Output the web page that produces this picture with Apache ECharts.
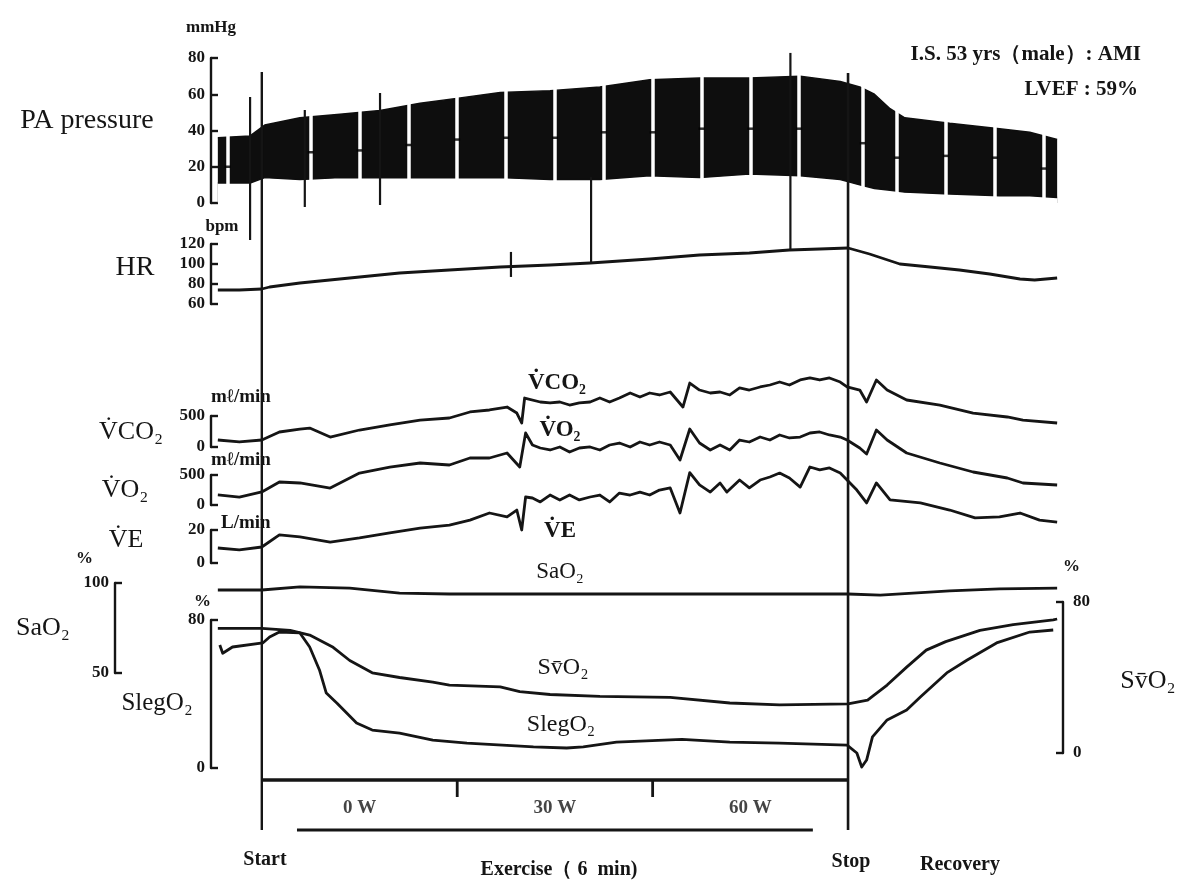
<!DOCTYPE html>
<html><head><meta charset="utf-8">
<script src="https://cdn.jsdelivr.net/npm/echarts@6/dist/echarts.min.js"></script>
<style>html,body{margin:0;padding:0;background:#fff}#c{width:1184px;height:884px}</style>
</head><body><div id="c"></div>
<script>
// ---------- DATA (time in minutes from start of exercise) ----------
const paTimes = [-0.45,-0.12,0.03,0.39,0.8,1.21,1.62,2.03,2.44,2.95,3.46,3.97,4.48,4.99,5.51,5.92,6.12,6.27,6.43,6.58,7.04,7.55,7.86,8.14];
const paLow   = [11,11,14,13,14,14,14,14,14,13,13,15,14,16,15,13,10,8,7,6,5,4,4,3];
const paHigh  = [36,37,43,47,49,51,55,58,61,62,64,68,69,69,70,67,64,60,52,47,44,41,39,35];
const paMarkTimes = [-0.35,0.5,1,1.5,2,2.5,3,3.5,4,4.5,5,5.5,6.15,6.5,7,7.5,8];
const paMean      = [20,28,29,32,35,36,36,39,39,41,41,41,33,25,26,25,19];
const spikeTimes  = [-0.12,0.44,1.21,2.55,3.37,5.41];
const spikeTop    = [58.5,51.3,60.7,-27,14.3,82.8];
const spikeBottom = [-20.4,-2.2,-1.1,-40.8,-33.1,-25.9];

const hrTimes  = [-0.45,-0.23,0,0.08,0.39,0.9,1.41,1.92,2.44,2.95,3.36,3.97,4.48,4.99,5.40,5.71,6.0,6.22,6.53,6.84,7.14,7.45,7.76,7.91,8.14];
const hrValues = [74,74,75,77,81,86,91,94,97,99,101,105,109,111,114,115,116,110,100,97,94,90,85,84,86];

const vco2Times  = [-0.45,-0.23,0,0.18,0.39,0.49,0.7,1.0,1.31,1.62,1.92,2.13,2.33,2.51,2.61,2.66,2.69,2.85,2.95,3.05,3.15,3.25,3.36,3.46,3.56,3.66,3.77,3.87,3.97,4.07,4.18,4.31,4.38,4.48,4.59,4.69,4.79,4.89,4.99,5.10,5.20,5.30,5.40,5.51,5.61,5.71,5.81,5.92,5.99,6.12,6.19,6.29,6.40,6.60,6.94,7.28,7.63,7.79,8.14];
const vco2Values = [113,81,113,242,290,306,161,274,355,435,468,565,597,645,548,387,790,726,710,726,677,710,726,790,726,790,871,806,871,839,887,645,1032,919,871,887,839,952,919,968,1000,1048,1000,1081,1113,1081,1113,1048,968,919,726,1081,919,758,677,548,484,435,387];

const vo2Times  = [-0.45,-0.23,0,0.18,0.39,0.7,1.0,1.31,1.62,1.92,2.13,2.33,2.51,2.64,2.70,2.77,2.85,2.95,3.05,3.15,3.25,3.36,3.46,3.56,3.66,3.77,3.87,3.97,4.07,4.18,4.28,4.38,4.48,4.59,4.69,4.79,4.89,4.99,5.10,5.20,5.30,5.40,5.51,5.61,5.71,5.81,5.92,5.99,6.12,6.19,6.29,6.40,6.60,6.94,7.28,7.63,7.79,8.14];
const vo2Values = [167,133,217,383,367,283,533,633,700,667,783,783,867,633,1200,1000,950,917,967,883,950,967,917,1000,1033,967,1050,1000,1050,1000,750,1267,1033,917,1000,917,1083,1050,1133,1083,1167,1117,1133,1200,1217,1167,1133,1083,950,850,1250,1083,867,700,550,450,367,333];

const veTimes  = [-0.45,-0.23,0,0.18,0.39,0.7,1.0,1.31,1.62,1.92,2.13,2.33,2.51,2.61,2.66,2.70,2.77,2.85,2.95,3.05,3.15,3.25,3.36,3.46,3.56,3.66,3.77,3.87,3.97,4.07,4.18,4.28,4.38,4.48,4.59,4.69,4.76,4.89,4.99,5.10,5.20,5.30,5.40,5.51,5.61,5.71,5.81,5.92,5.99,6.09,6.19,6.29,6.43,6.74,7.04,7.3,7.55,7.76,7.96,8.14];
const veValues = [9.1,7.9,9.7,17,15.8,12.7,15.2,18.2,21.2,23,26,30.3,27.9,32.1,20,40,39.4,37,41.2,38.2,41.2,38.2,40,41.2,37,42.4,41.2,43,41.2,44.2,45.5,30.3,54.8,47.3,43,48.5,43,50.3,45.5,50.3,52.1,54.5,51.5,46,58.2,56.4,57.6,54.5,50.3,44.2,36.4,48.5,38.2,36.4,32.1,27.3,27.9,30.3,26,24.8];

const sao2Times  = [-0.45,0,0.39,0.9,1.41,1.92,3.46,4.48,6.0,6.33,7.04,7.55,8.14];
const sao2Values = [96.1,96.1,97.8,97.2,94.4,93.9,93.9,93.9,93.9,93.3,95.6,96.7,97.2];

const svo2Times  = [-0.45,0,0.29,0.49,0.73,0.9,1.13,1.41,1.75,1.92,2.44,2.64,2.95,3.46,4.18,4.79,5.3,6.0,6.2,6.4,6.6,6.8,7.0,7.35,7.69,8.1,8.14];
const svo2Values = [66,66,65,62.5,56,49,42.5,40,37.5,36,35,32.5,31,30,29.5,26.5,25.5,26,28,36,45.5,54.5,59,65,68,70.5,71];

const slegTimes  = [-0.43,-0.40,-0.30,0.01,0.08,0.18,0.39,0.49,0.59,0.66,0.77,0.97,1.13,1.41,1.75,2.1,2.78,3.12,3.29,3.63,4.3,4.79,5.3,5.99,6.09,6.14,6.19,6.25,6.4,6.6,6.74,7.01,7.22,7.52,7.86,8.1];
const slegValues = [66.5,62,65.4,67.6,70.8,73.5,73,65.4,53,40.5,35,24.3,20.5,18.9,15.1,13.5,11.4,10.8,11.4,14,15.5,14,13.5,12.4,8.1,0.5,4.3,16.8,26,31.4,38.4,51.4,58.4,67.6,73.5,74.6];

const startTime = 0, stopTime = 6;
const stageNames = ['0 W','30 W','60 W'];
const stageStart = [0,2,4];
const stageEnd   = [2,4,6];
const exerciseBar = [0.36, 5.64];

// ---------- LAYOUT / STYLE ----------
const INK = '#151515';
const SERIF = '"Liberation Serif","DejaVu Serif",serif';
const tMin = -0.52, tMax = 8.2;
const GL = 211, GR = 121;
const grids = [
  {top:58,  height:145}, // 0 PA
  {top:244, height:60},  // 1 HR
  {top:416, height:31},  // 2 VCO2
  {top:475, height:30},  // 3 VO2
  {top:530, height:33},  // 4 VE
  {top:583, height:90},  // 5 SaO2
  {top:620, height:148}, // 6 SlegO2 (left)
  {top:602, height:151}, // 7 SvO2 (right)
  {top:0,   height:884}  // 8 overlay
].map(g => ({left:GL, right:GR, top:g.top, height:g.height}));

const xAxes = grids.map((g,i) => ({gridIndex:i, type:'value', min:tMin, max:tMax, show:false}));

function bracket(gi, min, max, interval, extra) {
  return Object.assign({
    gridIndex: gi, type:'value', min, max, interval,
    axisLine:{show:true, onZero:false, lineStyle:{color:INK, width:2.4}},
    axisTick:{show:true, inside:true, length:7, lineStyle:{color:INK, width:2.4}},
    axisLabel:{color:INK, fontFamily:SERIF, fontWeight:'bold', fontSize:17, margin:6},
    splitLine:{show:false},
    nameTextStyle:{color:INK, fontFamily:SERIF, fontWeight:'bold', fontSize:17}
  }, extra || {});
}
const unitStyle = (o) => Object.assign({color:INK, fontFamily:SERIF, fontWeight:'bold', fontSize:17}, o);

const yAxes = [
  bracket(0, 0, 80, 20, {name:'mmHg', nameLocation:'end', nameGap:22}),
  bracket(1, 60, 120, 20, {name:'bpm', nameLocation:'end', nameGap:9, nameTextStyle:unitStyle({padding:[0,0,0,22]})}),
  bracket(2, 0, 500, 500, {name:'m\u2113/min', nameLocation:'end', nameGap:9, nameTextStyle:unitStyle({align:'left', fontSize:19})}),
  bracket(3, 0, 500, 500, {name:'m\u2113/min', nameLocation:'end', nameGap:5, nameTextStyle:unitStyle({align:'left', fontSize:19})}),
  bracket(4, 0, 20, 20, {name:'L/min', nameLocation:'end', nameGap:-3, nameTextStyle:unitStyle({align:'left', fontSize:19, padding:[0,0,0,10]})}),
  bracket(5, 50, 100, 50, {offset:96, name:'%', nameLocation:'end', nameGap:16, nameTextStyle:unitStyle({align:'right', padding:[0,22,0,0]})}),
  bracket(6, 0, 80, 80, {name:'%', nameLocation:'end', nameGap:10, nameTextStyle:unitStyle({align:'right'})}),
  bracket(7, 0, 80, 80, {position:'right', name:'%', nameLocation:'end', nameGap:27, nameTextStyle:unitStyle({align:'left'}), axisLabel:{color:INK, fontFamily:SERIF, fontWeight:'bold', fontSize:17, margin:10}}),
  {gridIndex:8, type:'value', min:0, max:884, inverse:true, show:false}
];

const pairs = (ts, vs) => ts.map((t,i) => [t, vs[i]]);
function trace(gi, ts, vs, w) {
  return {type:'line', xAxisIndex:gi, yAxisIndex:gi, data:pairs(ts,vs), showSymbol:false, symbol:'none',
    clip:false, silent:true, animation:false, z:4,
    lineStyle:{color:INK, width:w || 2.8, join:'round'}};
}
function seg(gi, a, b, w, z) {
  return {type:'line', xAxisIndex:gi, yAxisIndex:gi, data:[a,b], showSymbol:false, symbol:'none',
    clip:false, silent:true, animation:false, z:z || 8, lineStyle:{color:INK, width:w || 2.2}};
}

const series = [];
// PA pressure band: systolic envelope filled black, diastolic envelope filled white on top
series.push({type:'line', xAxisIndex:0, yAxisIndex:0, data:pairs(paTimes, paHigh),
  showSymbol:false, symbol:'none', clip:false, silent:true, animation:false, z:2,
  lineStyle:{color:'#0e0e0e', width:1.5}, areaStyle:{color:'#0e0e0e', opacity:1, origin:'start'}});
series.push({type:'line', xAxisIndex:0, yAxisIndex:0, data:pairs(paTimes, paLow),
  showSymbol:false, symbol:'none', clip:false, silent:true, animation:false, z:3,
  lineStyle:{color:'#0e0e0e', width:1.5}, areaStyle:{color:'#ffffff', opacity:1, origin:'start'},
  markLine:{symbol:['none','none'], silent:true, animation:false, label:{show:false},
    lineStyle:{color:'#ffffff', width:3.5, type:'solid'},
    data: paMarkTimes.map(t => [{coord:[t,1]},{coord:[t,80]}])}
});
series.push({type:'scatter', xAxisIndex:0, yAxisIndex:0, data:pairs(paMarkTimes, paMean), symbol:'rect',
  symbolSize:[6,2.5], itemStyle:{color:'#000'}, silent:true, animation:false, z:7});
spikeTimes.forEach((t,i) => series.push(seg(0, [t, spikeTop[i]], [t, spikeBottom[i]], 2.2, 7)));

series.push(trace(1, hrTimes, hrValues));
series.push(trace(2, vco2Times, vco2Values));
series.push(trace(3, vo2Times, vo2Values));
series.push(trace(4, veTimes, veValues));
series.push(trace(5, sao2Times, sao2Values));
series.push(trace(6, slegTimes, slegValues));
series.push(trace(7, svo2Times, svo2Values));

// overlay: event lines and stage bars
series.push(seg(8, [startTime,72], [startTime,830], 2.4, 9));
series.push(seg(8, [stopTime,73], [stopTime,830], 2.6, 9));
series.push(seg(8, [stageStart[0],780], [stageEnd[stageEnd.length-1],780], 3.5, 9));
stageStart.slice(1).forEach(t => series.push(seg(8, [t,780], [t,797], 2.8, 9)));
series.push(seg(8, [exerciseBar[0],830], [exerciseBar[1],830], 3, 9));
series.push({type:'scatter', xAxisIndex:8, yAxisIndex:8, symbolSize:0, silent:true, animation:false, z:9,
  data: stageNames.map((n,i) => ({name:n, value:[(stageStart[i]+stageEnd[i])/2, 808]})),
  label:{show:true, position:'inside', formatter:p=>p.name, color:INK, fontFamily:SERIF, fontWeight:'bold', fontSize:19}});

// ---------- TEXT ----------
function txt(s, x, y, size, opts) {
  return {type:'text', x, y, silent:true, z:20,
    style:{text:s, fill:INK, font:((opts&&opts.weight)||'normal')+' '+size+'px '+SERIF,
      align:(opts&&opts.align)||'center', verticalAlign:'middle'}};
}
const V = 'V\u0307';
const graphics = [
  txt('PA pressure', 87, 121, 28),
  txt('HR', 135, 268, 28),
  txt(V+'CO\u2082', 131, 432, 26),
  txt(V+'O\u2082', 125, 490, 26),
  txt(V+'E', 126, 540, 26),
  txt('SaO\u2082', 43, 628, 26),
  txt('SlegO\u2082', 157, 703, 25),
  txt('Sv\u0304O\u2082', 1148, 681, 26),
  txt('I.S. 53 yrs\uFF08male\uFF09: AMI', 1141, 55, 21, {align:'right', weight:'bold'}),
  txt('LVEF : 59%', 1138, 90, 21, {align:'right', weight:'bold'}),
  txt(V+'CO\u2082', 557, 383, 23, {weight:'bold'}),
  txt(V+'O\u2082', 560, 430, 23, {weight:'bold'}),
  txt(V+'E', 560, 531, 23, {weight:'bold'}),
  txt('SaO\u2082', 560, 572, 23),
  txt('Sv\u0304O\u2082', 563, 668, 24),
  txt('SlegO\u2082', 561, 725, 24),
  txt('Start', 265, 860, 20, {weight:'bold'}),
  txt('Exercise\uFF08 6  min)', 559, 870, 20, {weight:'bold'}),
  txt('Stop', 851, 862, 20, {weight:'bold'}),
  txt('Recovery', 960, 865, 20, {weight:'bold'})
];

const chart = echarts.init(document.getElementById('c'), null, {renderer:'canvas'});
chart.setOption({
  backgroundColor:'#ffffff',
  animation:false,
  grid:grids, xAxis:xAxes, yAxis:yAxes, series:series, graphic:graphics
});
</script></body></html>
